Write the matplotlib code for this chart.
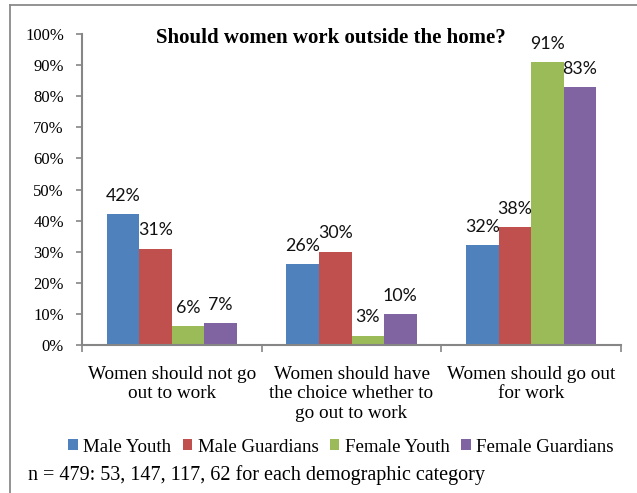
import numpy as np
import matplotlib.pyplot as plt
from matplotlib.lines import Line2D

TITLE = "Should women work outside the home?"
FOOTNOTE = "n = 479: 53, 147, 117, 62 for each demographic category"

categories = ["Women should not go\nout to work",
              "Women should have\nthe choice whether to\ngo out to work",
              "Women should go out\nfor work"]
series_names = ["Male Youth", "Male Guardians", "Female Youth", "Female Guardians"]
male_youth = [42, 26, 32]
male_guardians = [31, 30, 38]
female_youth = [6, 3, 91]
female_guardians = [7, 10, 83]
yticks = [0, 10, 20, 30, 40, 50, 60, 70, 80, 90, 100]

COLORS = ["#4F81BD", "#C0504D", "#9BBB59", "#8064A2"]
SERIF = "Liberation Serif"
SANS = "Lato"
AXIS_GRAY = "#868686"

W, H = 637, 493
fig = plt.figure(figsize=(W / 100, H / 100), dpi=100)
ax = fig.add_axes([82 / W, 1 - 345 / H, (621 - 82) / W, (345 - 34) / H])

# outer chart frame (cropped on right and bottom)
fig.add_artist(Line2D([10 / W, 10 / W], [0, 1 - 5 / H], transform=fig.transFigure,
                      color="#8a8a8a", lw=1.3))
fig.add_artist(Line2D([10 / W, 1], [1 - 5 / H, 1 - 5 / H], transform=fig.transFigure,
                      color="#8a8a8a", lw=1.3))

data = [male_youth, male_guardians, female_youth, female_guardians]
x = np.arange(len(categories))
bw = 0.181
for i, (vals, name) in enumerate(zip(data, series_names)):
    xs = x + (i - 1.5) * bw
    ax.bar(xs, vals, width=bw, color=COLORS[i], label=name, zorder=2)
    for xx, v in zip(xs, vals):
        ax.text(xx, v + 3.3, f"{v}%", ha="center", va="bottom",
                fontsize=12.8, family=SANS, color="#111111")

ax.set_xlim(-0.5, 2.5)
ax.set_ylim(0, 100)
ax.set_yticks(yticks)
ax.set_yticklabels([f"{t}%" for t in yticks], family=SERIF, fontsize=12)
ax.set_xticks([-0.5, 0.5, 1.5, 2.5])
ax.set_xticklabels([])
ax.tick_params(axis="y", length=4, width=1.2, color=AXIS_GRAY, pad=9)
ax.tick_params(axis="x", length=5, width=1.2, color=AXIS_GRAY)
for s in ["top", "right"]:
    ax.spines[s].set_visible(False)
for s in ["left", "bottom"]:
    ax.spines[s].set_color(AXIS_GRAY)
    ax.spines[s].set_linewidth(1.5)

for xx, c in zip(x, categories):
    ax.text(xx, -6.6, c, ha="center", va="top", family=SERIF, fontsize=13.8,
            linespacing=1.22, transform=ax.transData)

fig.text(331 / W, 1 - 38 / H, TITLE, ha="center", va="center",
         family=SERIF, fontweight="bold", fontsize=15)

leg = fig.legend(loc="center", bbox_to_anchor=(341 / W, 1 - 447 / H), ncol=4,
                 frameon=False, prop={"family": SERIF, "size": 13.6},
                 handlelength=0.5, handleheight=0.5, handletextpad=0.3,
                 columnspacing=0.6)

fig.text(28 / W, 1 - 475 / H, FOOTNOTE, ha="left", va="center",
         family=SERIF, fontsize=14.5)

fig.savefig("out.png", dpi=100)
